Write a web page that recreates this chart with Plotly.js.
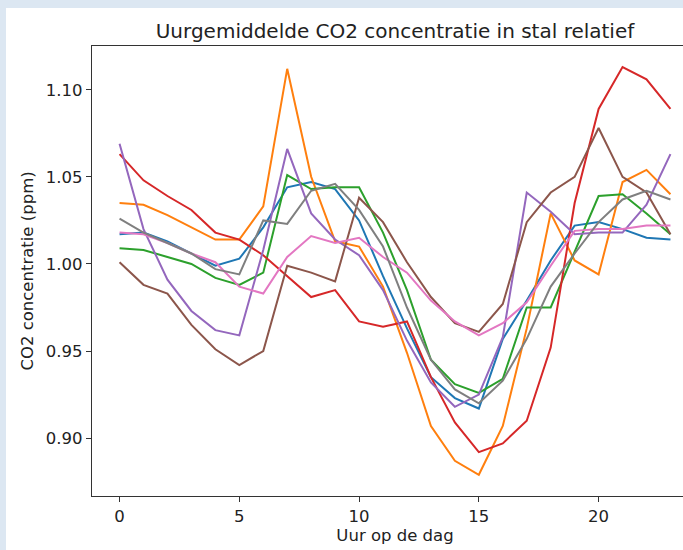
<!DOCTYPE html>
<html>
<head>
<meta charset="utf-8">
<script src="https://cdn.plot.ly/plotly-3.0.1.min.js"></script>
<style>
  html, body { margin: 0; padding: 0; width: 683px; height: 550px; overflow: hidden; background: #dce7f2; }
  #paper { position: absolute; left: 6px; top: 8px; width: 720px; height: 560px; background: #ffffff; }
  #chart { position: absolute; left: 0; top: 0; width: 720px; height: 550px; }
</style>
</head>
<body>
<div id="paper"></div>
<div id="chart"></div>
<script>
const hours = [0,1,2,3,4,5,6,7,8,9,10,11,12,13,14,15,16,17,18,19,20,21,22,23];

const seriesBlue   = [1.017,1.018,1.013,1.006,0.999,1.003,1.021,1.044,1.047,1.043,1.025,0.993,0.963,0.935,0.923,0.917,0.957,0.979,1.002,1.022,1.024,1.020,1.015,1.014];
const seriesOrange = [1.035,1.034,1.028,1.021,1.014,1.014,1.033,1.112,1.050,1.013,1.010,0.987,0.949,0.907,0.887,0.879,0.907,0.963,1.029,1.002,0.994,1.047,1.054,1.040];
const seriesGreen  = [1.009,1.008,1.004,1.000,0.992,0.988,0.995,1.051,1.043,1.044,1.044,1.018,0.985,0.945,0.931,0.926,0.934,0.975,0.975,1.007,1.039,1.040,1.029,1.017];
const seriesRed    = [1.063,1.048,1.039,1.031,1.018,1.014,1.005,0.993,0.981,0.985,0.967,0.964,0.967,0.935,0.909,0.892,0.897,0.910,0.952,1.035,1.089,1.113,1.106,1.089];
const seriesPurple = [1.069,1.020,0.991,0.973,0.962,0.959,1.008,1.066,1.029,1.014,1.005,0.985,0.956,0.932,0.918,0.925,0.958,1.041,1.030,1.017,1.018,1.018,1.034,1.063];
const seriesBrown  = [1.001,0.988,0.983,0.965,0.951,0.942,0.950,0.999,0.995,0.990,1.038,1.024,1.001,0.981,0.966,0.961,0.977,1.024,1.041,1.050,1.078,1.050,1.041,1.017];
const seriesPink   = [1.018,1.017,1.012,1.006,1.001,0.987,0.983,1.004,1.016,1.012,1.015,1.004,0.995,0.979,0.967,0.959,0.966,0.978,0.999,1.019,1.020,1.020,1.022,1.022];
const seriesGray   = [1.026,1.018,1.012,1.006,0.997,0.994,1.025,1.023,1.042,1.046,1.031,1.010,0.975,0.945,0.928,0.920,0.933,0.957,0.987,1.006,1.024,1.037,1.042,1.037];

const yTickVals = [0.90, 0.95, 1.00, 1.05, 1.10];
const yTickText = ["0.90", "0.95", "1.00", "1.05", "1.10"];
const xTickVals = [0, 5, 10, 15, 20];
const xTickText = ["0", "5", "10", "15", "20"];

const allSeries = [seriesBlue, seriesOrange, seriesGreen, seriesRed, seriesPurple, seriesBrown, seriesPink, seriesGray];
const colors = ['#1f77b4','#ff7f0e','#2ca02c','#d62728','#9467bd','#8c564b','#e377c2','#7f7f7f'];

const traces = allSeries.map((s, i) => ({
  x: hours, y: s, type: 'scatter', mode: 'lines',
  line: { color: colors[i], width: 2 },
  showlegend: false, hoverinfo: 'skip'
}));

const font = { family: 'DejaVu Sans, sans-serif', color: '#222222' };

const layout = {
  width: 720, height: 550,
  margin: { l: 92, r: 22, t: 46, b: 54 },
  paper_bgcolor: 'rgba(0,0,0,0)',
  plot_bgcolor: '#ffffff',
  font: Object.assign({ size: 17 }, font),
  title: {
    text: 'Uurgemiddelde CO2 concentratie in stal relatief',
    font: Object.assign({ size: 20 }, font),
    x: 0.5, xref: 'paper', xanchor: 'center',
    y: 1 - 31/550, yref: 'container', yanchor: 'middle'
  },
  xaxis: {
    range: [-1.15, 24.15],
    tickvals: xTickVals, ticktext: xTickText,
    ticks: 'outside', ticklen: 5, tickwidth: 1, tickcolor: '#333',
    showline: true, linecolor: '#333', linewidth: 1.3, mirror: true,
    showgrid: false, zeroline: false,
    tickfont: Object.assign({ size: 16.5 }, font),
    title: { text: 'Uur op de dag', font: Object.assign({ size: 16.5 }, font), standoff: 4 },
    automargin: false
  },
  yaxis: {
    range: [0.8668, 1.1251],
    tickvals: yTickVals, ticktext: yTickText,
    ticks: 'outside', ticklen: 5, tickwidth: 1, tickcolor: '#333',
    showline: true, linecolor: '#333', linewidth: 1.3, mirror: true,
    showgrid: false, zeroline: false,
    tickfont: Object.assign({ size: 16.5 }, font),
    title: { text: 'CO2 concentratie (ppm)', font: Object.assign({ size: 16.5 }, font), standoff: 8 },
    automargin: false
  }
};

Plotly.newPlot('chart', traces, layout, { displayModeBar: false, staticPlot: true });
</script>
</body>
</html>
